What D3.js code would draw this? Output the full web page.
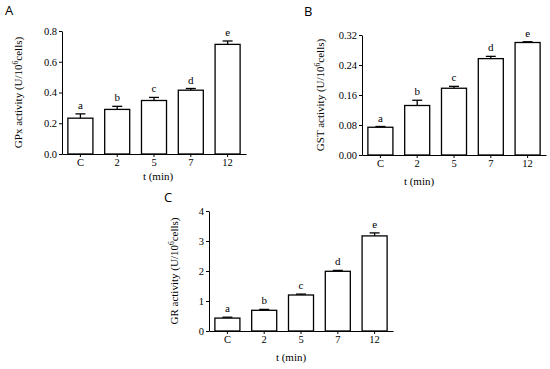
<!DOCTYPE html>
<html>
<head>
<meta charset="utf-8">
<script src="https://cdn.jsdelivr.net/npm/d3@7"></script>
<style>
  body { margin: 0; background: #fff; }
</style>
</head>
<body>
<div id="chart"></div>
<script>
// Data
var categories = ["C", "2", "5", "7", "12"];
var sigLetters = ["a", "b", "c", "d", "e"];

var gpxMean = [0.233, 0.290, 0.348, 0.415, 0.713];
var gpxErr  = [0.028, 0.020, 0.020, 0.011, 0.022];
var gpxTicks = [0, 0.2, 0.4, 0.6, 0.8];

var gstMean = [0.074, 0.132, 0.178, 0.257, 0.300];
var gstErr  = [0.002, 0.014, 0.005, 0.006, 0.002];
var gstTicks = [0, 0.08, 0.16, 0.24, 0.32];

var grMean = [0.43, 0.69, 1.20, 1.99, 3.17];
var grErr  = [0.03, 0.03, 0.03, 0.03, 0.10];
var grTicks = [0, 1, 2, 3, 4];

var serif = "'Liberation Serif', 'Times New Roman', Times, serif";
var sans = "'Open Sans', 'Liberation Sans', sans-serif";

var svgWidth = 550;
var svgHeight = 369;

var svg = d3.select("#chart")
  .append("svg")
  .attr("width", svgWidth)
  .attr("height", svgHeight)
  .attr("font-family", serif);

// one panel = one small bar chart with error bars
function drawPanel(opt) {
  var g = svg.append("g")
    .attr("transform", `translate(${opt.left}, ${opt.top})`);

  var xScale = d3.scaleBand()
    .domain(categories)
    .range([0, opt.width])
    .paddingInner(0.32)
    .paddingOuter(0.16);

  var yScale = d3.scaleLinear()
    .domain([0, d3.max(opt.ticks)])
    .range([opt.height, 0]);

  var rows = categories.map(function(c, i) {
    return { cat: c, mean: opt.mean[i], err: opt.err[i], letter: sigLetters[i] };
  });

  // bars
  g.selectAll("rect.bar")
    .data(rows)
    .enter()
    .append("rect")
    .attr("class", "bar")
    .attr("x", d => xScale(d.cat))
    .attr("y", d => yScale(d.mean))
    .attr("width", xScale.bandwidth())
    .attr("height", d => opt.height - yScale(d.mean))
    .attr("fill", "#fff")
    .attr("stroke", "#000")
    .attr("stroke-width", 1.3);

  // upper error bars
  var capHalf = 5;
  g.selectAll("line.errV")
    .data(rows)
    .enter()
    .append("line")
    .attr("x1", d => xScale(d.cat) + xScale.bandwidth() / 2)
    .attr("x2", d => xScale(d.cat) + xScale.bandwidth() / 2)
    .attr("y1", d => yScale(d.mean))
    .attr("y2", d => yScale(d.mean + d.err))
    .attr("stroke", "#000")
    .attr("stroke-width", 1.3);

  g.selectAll("line.errCap")
    .data(rows)
    .enter()
    .append("line")
    .attr("x1", d => xScale(d.cat) + xScale.bandwidth() / 2 - capHalf)
    .attr("x2", d => xScale(d.cat) + xScale.bandwidth() / 2 + capHalf)
    .attr("y1", d => yScale(d.mean + d.err))
    .attr("y2", d => yScale(d.mean + d.err))
    .attr("stroke", "#000")
    .attr("stroke-width", 1.3);

  // significance letters
  g.selectAll("text.sig")
    .data(rows)
    .enter()
    .append("text")
    .attr("x", d => xScale(d.cat) + xScale.bandwidth() / 2)
    .attr("y", d => yScale(d.mean + d.err) - 5)
    .attr("text-anchor", "middle")
    .attr("font-family", serif)
    .attr("font-size", 11)
    .text(d => d.letter);

  // axes
  var bottomAxis = d3.axisBottom(xScale).tickSize(3).tickSizeOuter(0).tickPadding(2);
  var leftAxis = d3.axisLeft(yScale).tickValues(opt.ticks).tickFormat(d3.format(opt.fmt))
    .tickSize(3).tickSizeOuter(0).tickPadding(2);

  var xa = g.append("g")
    .attr("transform", `translate(0, ${opt.height})`)
    .call(bottomAxis);
  var ya = g.append("g").call(leftAxis);

  [xa, ya].forEach(function(a) {
    a.attr("font-family", serif).attr("font-size", 10.5);
    a.selectAll("text").attr("font-family", serif).attr("font-size", 10.5).attr("fill", "#000");
    a.selectAll("path, line").attr("stroke", "#000").attr("stroke-width", 1);
  });

  // axis titles
  g.append("text")
    .attr("x", opt.xLabelX)
    .attr("y", opt.height + opt.xLabelDy)
    .attr("text-anchor", "middle")
    .attr("font-family", serif)
    .attr("font-size", 11)
    .text("t (min)");

  var yl = g.append("text")
    .attr("transform", `translate(${-opt.yLabelDx}, ${opt.height / 2}) rotate(-90)`)
    .attr("text-anchor", "middle")
    .attr("font-family", serif)
    .attr("font-size", 11);
  yl.append("tspan").text(opt.yName + " activity (U/10");
  yl.append("tspan").attr("font-size", 7.5).attr("dy", -4).text("6");
  yl.append("tspan").attr("dy", 4).text("cells)");

  // panel tag
  svg.append("text")
    .attr("x", opt.tagX)
    .attr("y", opt.tagY)
    .attr("font-family", sans)
    .attr("font-size", 13)
    .text(opt.tag);
}

drawPanel({ tag: "A", tagX: 5, tagY: 15, left: 62, top: 31, width: 184, height: 123,
  mean: gpxMean, err: gpxErr, ticks: gpxTicks, fmt: ".1f", yName: "GPx",
  xLabelX: 96, xLabelDy: 26, yLabelDx: 40 });

drawPanel({ tag: "B", tagX: 304, tagY: 16, left: 362, top: 35, width: 184, height: 120,
  mean: gstMean, err: gstErr, ticks: gstTicks, fmt: ".2f", yName: "GST",
  xLabelX: 57, xLabelDy: 30, yLabelDx: 38 });

drawPanel({ tag: "C", tagX: 164, tagY: 202, left: 209, top: 211, width: 184, height: 120,
  mean: grMean, err: grErr, ticks: grTicks, fmt: "d", yName: "GR",
  xLabelX: 82, xLabelDy: 30, yLabelDx: 31 });
</script>
</body>
</html>
